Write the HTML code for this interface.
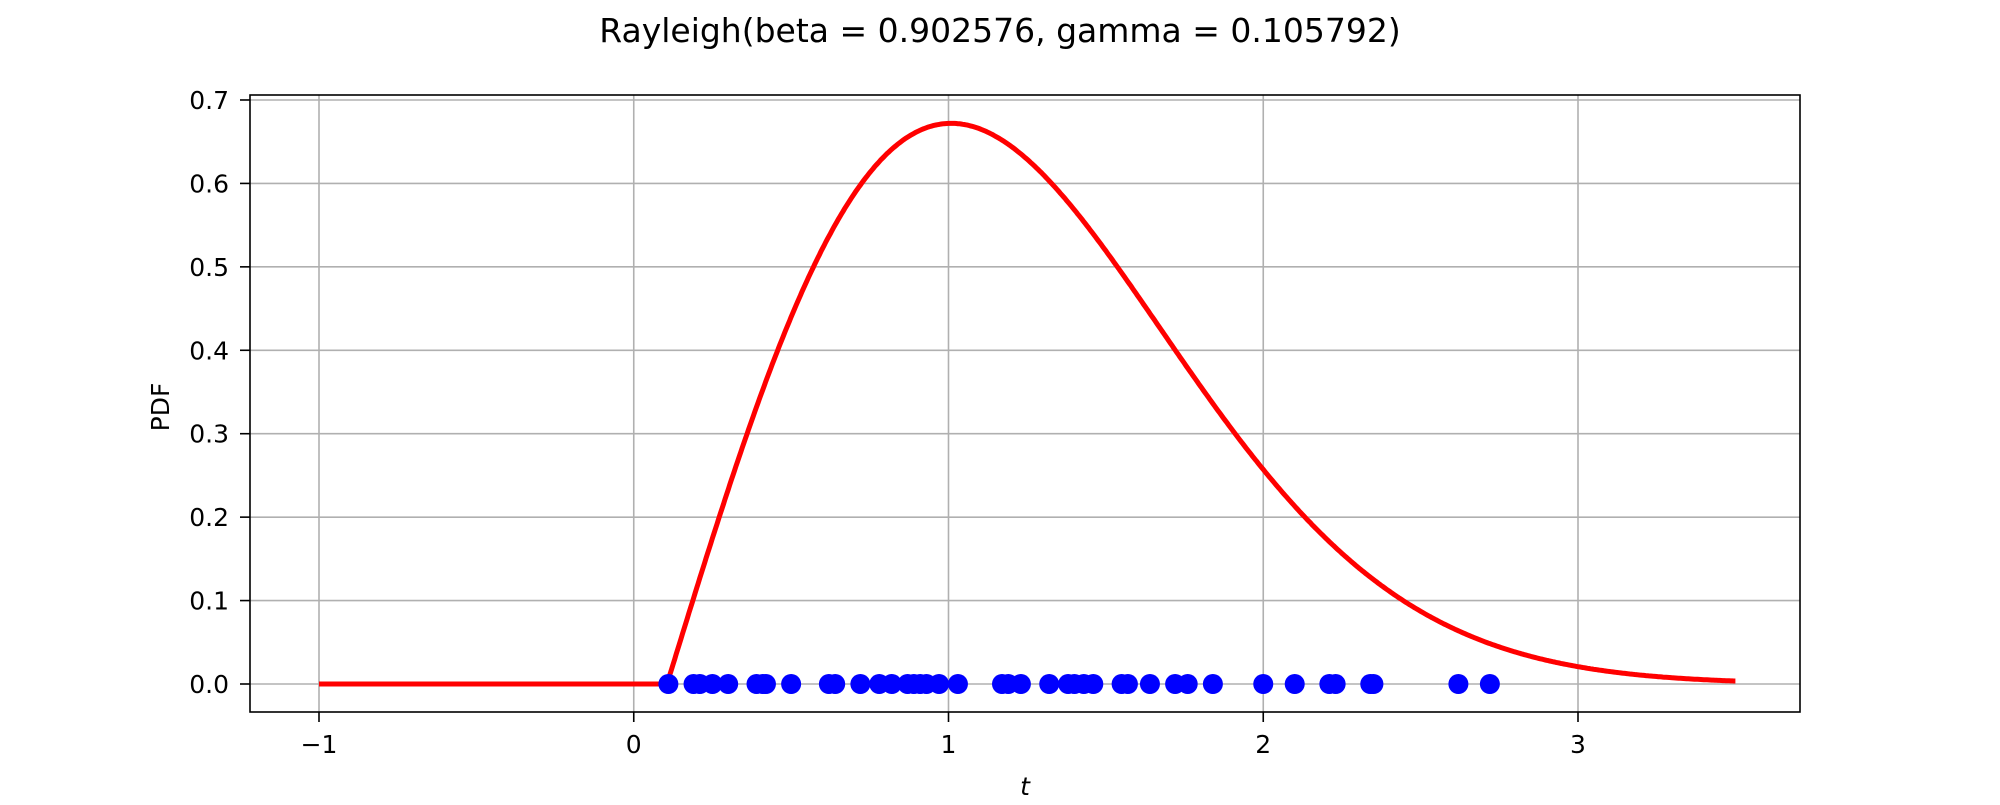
<!DOCTYPE html>
<html><head><meta charset="utf-8"><style>
body{margin:0;background:#fff;}
svg text{font-family:"DejaVu Sans","Liberation Sans",sans-serif;fill:#000;}
</style></head><body>
<svg id="chart" width="2000" height="800" xmlns="http://www.w3.org/2000/svg">
<text x="1000" y="42" font-size="33" text-anchor="middle">Rayleigh(beta = 0.902576, gamma = 0.105792)</text>
<g id="grid"></g>
<g id="ticks"></g>
<g id="marks"></g>
<rect x="250" y="95" width="1550" height="617" fill="none" stroke="#000" stroke-width="1.6"/>
<text x="0" y="0" font-size="25" text-anchor="middle" transform="translate(169,407) rotate(-90)">PDF</text>
<text x="1025" y="795" font-size="25" font-style="italic" text-anchor="middle">t</text>
</svg>
<script>
const xTicks=[-1,0,1,2,3];
const yTicks=[0,0.1,0.2,0.3,0.4,0.5,0.6,0.7];
const yTickLabels=["0.0","0.1","0.2","0.3","0.4","0.5","0.6","0.7"];
const betaParam=[0.902576];
const gammaParam=[0.105792];
const curveRange=[-1,3.5];
const samples=[0.11,0.19,0.21,0.25,0.30,0.39,0.41,0.42,0.50,0.62,0.64,0.72,0.78,0.82,0.87,0.89,0.91,0.93,0.97,1.03,1.17,1.19,1.23,1.32,1.38,1.40,1.43,1.46,1.55,1.57,1.64,1.72,1.76,1.84,2.00,2.10,2.21,2.23,2.34,2.35,2.62,2.72];

const NS="http://www.w3.org/2000/svg";
const X=v=>633.75+v*314.75;
const Y=v=>684-v*834.3;
const L=250,R=1800,T=95,B=712;
function mk(tag,attrs,parent){const e=document.createElementNS(NS,tag);for(const k in attrs)e.setAttribute(k,attrs[k]);document.getElementById(parent).appendChild(e);return e;}
xTicks.forEach(t=>{
  const g=mk('line',{x1:X(t),x2:X(t),y1:T,y2:B,stroke:'#b0b0b0','stroke-width':1.6},'grid');
  
  
  const tk=mk('line',{x1:X(t),x2:X(t),y1:B,y2:B+10,stroke:'#000','stroke-width':1.6},'ticks');
  
  
  const tx=mk('text',{x:X(t),y:753,'font-size':25,'text-anchor':'middle'},'ticks');
  tx.textContent=t<0?'\u2212'+Math.abs(t):String(t);
  
  
});
yTicks.forEach((t,i)=>{
  const g=mk('line',{x1:L,x2:R,y1:Y(t),y2:Y(t),stroke:'#b0b0b0','stroke-width':1.6},'grid');
  
  
  const tk=mk('line',{x1:L-10,x2:L,y1:Y(t),y2:Y(t),stroke:'#000','stroke-width':1.6},'ticks');
  
  
  const tx=mk('text',{x:L-21,y:Y(t)+9,'font-size':25,'text-anchor':'end'},'ticks');
  tx.textContent=yTickLabels[i];
  
  
});
const b=betaParam[0],g0=gammaParam[0];
const pdf=t=>t<g0?0:(t-g0)/(b*b)*Math.exp(-(t-g0)*(t-g0)/(2*b*b));
let pts=[];
for(let i=0;i<=900;i++){const t=curveRange[0]+(curveRange[1]-curveRange[0])*i/900;pts.push(X(t).toFixed(1)+','+Y(pdf(t)).toFixed(1));}
const line=mk('polyline',{points:pts.join(' '),fill:'none',stroke:'#ff0000','stroke-width':5},'marks');


samples.forEach(s=>{
  const c=mk('circle',{cx:X(s),cy:Y(0),r:10,fill:'#0000ff'},'marks');
  
  
});
</script>
</body></html>
